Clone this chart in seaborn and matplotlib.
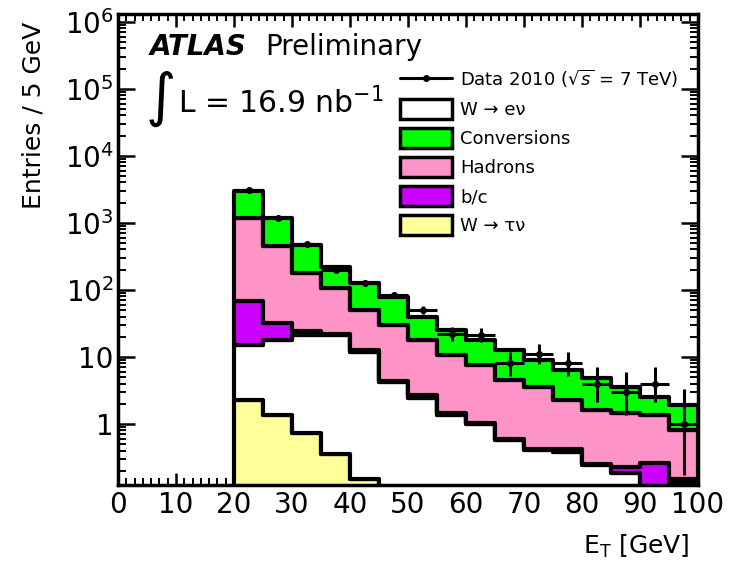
import numpy as np
import pandas as pd
import matplotlib
matplotlib.use("Agg")
import matplotlib.pyplot as plt
import seaborn as sns
from matplotlib.lines import Line2D
from matplotlib.patches import Patch
from matplotlib.ticker import MultipleLocator, AutoMinorLocator, LogLocator, FixedLocator, FixedFormatter, NullFormatter

# ---------------- data ----------------
bin_edges = [20, 25, 30, 35, 40, 45, 50, 55, 60, 65, 70, 75, 80, 85, 90, 95, 100]
bin_centers = [22.5, 27.5, 32.5, 37.5, 42.5, 47.5, 52.5, 57.5, 62.5, 67.5,
               72.5, 77.5, 82.5, 87.5, 92.5, 97.5]
data_counts = [3100, 1190, 480, 200, 127, 84, 50, 22, 21, 8, 11, 8, 4, 3, 4, 1]
w_tau_nu = [2.3, 1.36, 0.73, 0.36, 0.15, 0, 0, 0, 0, 0, 0, 0, 0, 0, 0, 0]
w_e_nu = [12.7, 16.6, 20.3, 20.6, 11.75, 4.2, 2.4, 1.36, 1.0, 0.58, 0.41, 0.38,
          0.245, 0.186, 0.10, 0.13]
b_c = [54, 14, 3.5, 1.0, 0.6, 0.2, 0.3, 0.09, 0.05, 0.02, 0.02, 0.04, 0.005,
       0.044, 0.16, 0.02]
hadrons = [1111, 423, 155, 85, 37.5, 25.6, 15.3, 9.25, 6.55, 3.9, 3.17, 1.88,
           1.35, 1.22, 1.1, 0.65]
conversions = [1820, 725, 290, 113, 77, 49, 21.5, 14.3, 10.4, 8.2, 5.4, 4.1,
               3.3, 2.15, 1.14, 1.1]

comp_names = ["Conversions", "Hadrons", "b/c", "W \u2192 e\u03bd", "W \u2192 \u03c4\u03bd"]
comp_values = [conversions, hadrons, b_c, w_e_nu, w_tau_nu]
comp_colors = ["#00FF00", "#FF94C8", "#CC00FF", "#FFFFFF", "#FFFF99"]

y_ticks = [1, 10, 100, 1000, 1e4, 1e5, 1e6]
y_ticklabels = ["1", "10", "$10^{2}$", "$10^{3}$", "$10^{4}$", "$10^{5}$", "$10^{6}$"]

# long-format table for seaborn
rows = []
for name, vals in zip(comp_names, comp_values):
    for c, v in zip(bin_centers, vals):
        rows.append({"et": c, "w": v, "comp": name})
df = pd.DataFrame(rows)

sns.set_theme(style="ticks")
plt.rcParams["font.family"] = ["DejaVu Sans"]
plt.rcParams["mathtext.fontset"] = "dejavusans"
for k in ["text.color", "axes.labelcolor", "xtick.color", "ytick.color", "axes.edgecolor"]:
    plt.rcParams[k] = "black"

W, H = 735, 564
fig = plt.figure(figsize=(W / 100, H / 100), dpi=100)
fig.patch.set_facecolor("white")
ax = fig.add_axes([118 / W, 1 - 485 / H, (698 - 118) / W, (485 - 14) / H])
ax.set_facecolor("white")
ax.set_yscale("log")

sns.histplot(data=df, x="et", weights="w", hue="comp", hue_order=comp_names,
             palette=dict(zip(comp_names, comp_colors)), bins=bin_edges,
             multiple="stack", element="step", fill=True, alpha=1,
             edgecolor="black", linewidth=3, legend=False, ax=ax)

# data with Poisson (Gehrels approx.) errors
n = np.array(data_counts, dtype=float)
upper = n + np.sqrt(n + 0.75) + 1.0
lower = n * (1 - 1 / (9 * n) - 1 / (3 * np.sqrt(n))) ** 3
ax.errorbar(bin_centers, n, yerr=[n - lower, upper - n], xerr=2.5, fmt="o",
            color="black", ms=4, lw=2.2, capsize=0, zorder=10)

ax.set_xlim(0, 100)
ax.set_ylim(0.123, 1.3e6)

ax.xaxis.set_major_locator(MultipleLocator(10))
ax.xaxis.set_minor_locator(AutoMinorLocator(7))
ax.yaxis.set_major_locator(FixedLocator(y_ticks))
ax.yaxis.set_major_formatter(FixedFormatter(y_ticklabels))
ax.yaxis.set_minor_locator(LogLocator(base=10, subs=np.arange(2, 10), numticks=20))
ax.yaxis.set_minor_formatter(NullFormatter())

ax.tick_params(which="both", direction="in", top=True, right=True, colors="black")
ax.tick_params(axis="x", which="major", length=9, width=1.8, labelsize=20, pad=4)
ax.tick_params(axis="x", which="minor", length=5, width=1.4)
ax.tick_params(axis="y", which="major", length=12, width=1.8, labelsize=20, pad=3)
ax.tick_params(axis="y", which="minor", length=6, width=1.4)
for s in ax.spines.values():
    s.set_visible(True)
    s.set_linewidth(2.5)
    s.set_color("black")
    s.set_zorder(20)

ax.set_xlabel("E$_\\mathregular{T}$ [GeV]", fontsize=18, ha="right", color="black")
ax.xaxis.set_label_coords((690 - 118) / 580, -(533 - 485) / 471)
ax.set_ylabel("Entries / 5 GeV", fontsize=18, ha="right", va="center", color="black")
ax.yaxis.set_label_coords((34 - 118) / 580, 1 - (22 - 14) / 471)

def ftext(x, y, s, **kw):
    fig.text(x / W, 1 - y / H, s, color="black", **kw)

ftext(150, 55, "ATLAS", fontsize=20, fontweight="bold", fontstyle="italic", va="baseline")
ftext(265, 55, "Preliminary", fontsize=20, va="baseline")
ftext(146, 99, "\u222b", fontsize=42, va="center")
ftext(178, 113, "L = 16.9 nb$^{-1}$", fontsize=21.5, va="baseline")

handles = [Line2D([], [], color="black", marker="o", ms=4, lw=2.2)]
labels = ["Data 2010 ($\\sqrt{s}$ = 7 TeV)"]
order = [3, 0, 1, 2, 4]
for i in order:
    handles.append(Patch(facecolor=comp_colors[i], edgecolor="black", linewidth=2.5))
    labels.append(comp_names[i])
leg = ax.legend(handles, labels, loc="upper left",
                bbox_to_anchor=(400 / W, 1 - 68 / H), bbox_transform=fig.transFigure,
                frameon=False, borderpad=0, borderaxespad=0, handlelength=2.9,
                handleheight=1.4, handletextpad=0.45, labelspacing=0.45, fontsize=13)
for t in leg.get_texts():
    t.set_color("black")
leg.set_zorder(30)

fig.savefig("out.png", dpi=100)
